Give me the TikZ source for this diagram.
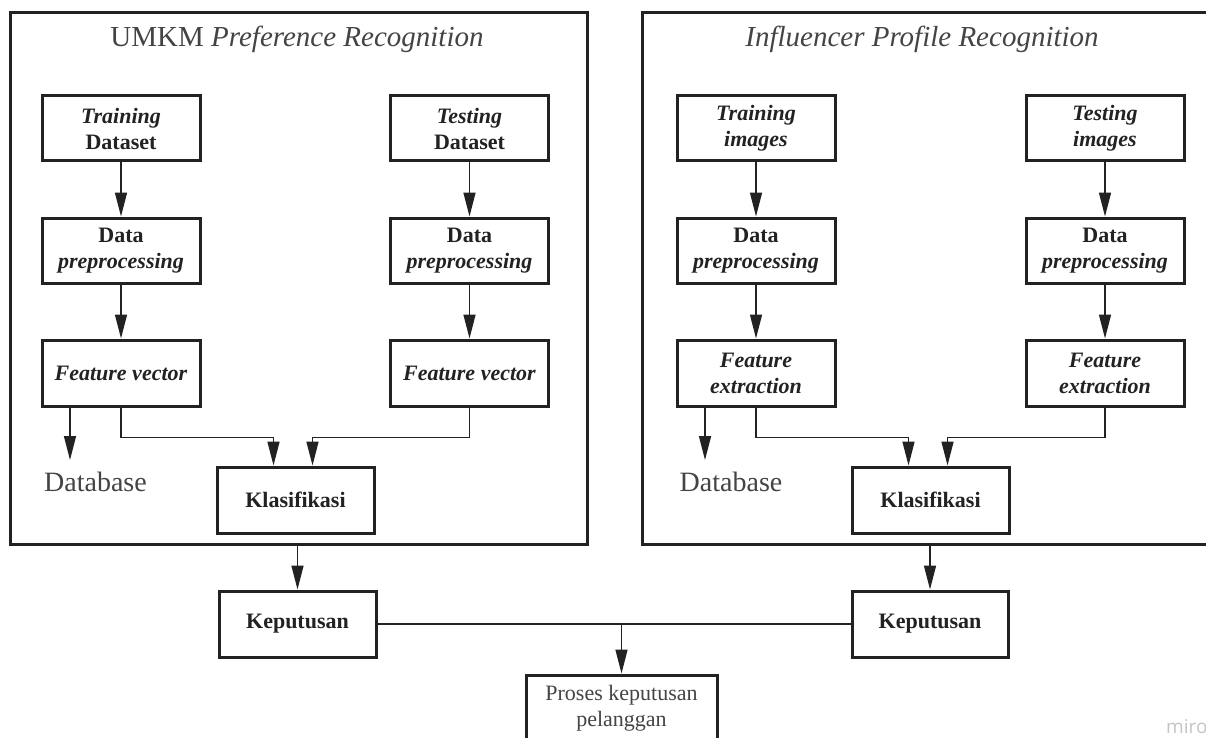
\documentclass[tikz,border=0pt]{standalone}
\usepackage{fontspec}
\setmainfont{Liberation Serif}
\newfontfamily\mirofont{Open Sans}
\usetikzlibrary{arrows.meta}
\definecolor{ink}{HTML}{222222}
\definecolor{soft}{HTML}{444444}
\definecolor{wm}{HTML}{C4C4C4}
\begin{document}
\begin{tikzpicture}[x=1pt,y=-1pt,
 box/.style={draw=ink, line width=3pt, minimum width=158pt, minimum height=65pt, inner sep=0pt, align=center, text=ink, font=\fontsize{22}{26}\selectfont\bfseries},
 outer/.style={draw=ink, line width=3pt, inner sep=0pt},
 arr/.style={draw=ink, line width=1.5pt, -{Triangle[length=24pt,width=12pt]}},
 ln/.style={draw=ink, line width=1.5pt},
 ttl/.style={text=soft, font=\fontsize{29}{32}\selectfont, inner sep=0pt},
 dbt/.style={text=soft, font=\fontsize{28}{30}\selectfont, inner sep=0pt}
]
\clip (0,0) rectangle (1206,738);
\fill[white] (0,0) rectangle (1206,738);

% outer boxes
\node[outer, minimum width=577pt, minimum height=531pt] (OL) at (298.5,278.5) {};
\node[outer, minimum width=588pt, minimum height=531pt] (OR) at (936,278.5) {};

% titles
\node[ttl] (T1) at (297,39) {UMKM \textit{Preference Recognition}};
\node[ttl] (T2) at (922,39) {\textit{Influencer Profile Recognition}};

% left column
\node[box] (TD) at (121,128.5) {\textit{Training}\\Dataset};
\node[box] (TS) at (469.5,128.5) {\textit{Testing}\\Dataset};
\node[box] (DP1) at (121,250.5) {Data\\\textit{preprocessing}};
\node[box] (DP2) at (469.5,250.5) {Data\\\textit{preprocessing}};
\node[box, minimum height=66pt] (FV1) at (121,373) {\textit{Feature vector}};
\node[box, minimum height=66pt] (FV2) at (469.5,373) {\textit{Feature vector}};
\node[box, minimum width=157pt, minimum height=66pt] (K1) at (295.5,500) {Klasifikasi};
\node[dbt] (DB1) at (95.5,482) {Database};
\coordinate (db1) at (70,460);

% right column
\node[box] (TI) at (756,128.5) {\textit{Training}\\\textit{images}};
\node[box] (TT) at (1105,128.5) {\textit{Testing}\\\textit{images}};
\node[box] (DP3) at (756,250.5) {Data\\\textit{preprocessing}};
\node[box] (DP4) at (1105,250.5) {Data\\\textit{preprocessing}};
\node[box, minimum height=66pt] (FE1) at (756,373) {\textit{Feature}\\\textit{extraction}};
\node[box, minimum height=66pt] (FE2) at (1105,373) {\textit{Feature}\\\textit{extraction}};
\node[box, minimum width=157pt, minimum height=66pt] (K2) at (930.5,500) {Klasifikasi};
\node[dbt] (DB2) at (731,482) {Database};
\coordinate (db2) at (705,460);

% bottom
\node[box, minimum width=157pt, minimum height=66pt] (KP1) at (297.5,624) {Keputusan};
\node[box, minimum width=156pt, minimum height=66pt] (KP2) at (930,624) {Keputusan};
\node[box, minimum width=191pt, minimum height=66pt, font=\fontsize{22}{26}\selectfont, text=soft] (PR) at (621.5,708) {Proses keputusan\\pelanggan};

\node[text=wm, font=\mirofont\fontsize{19}{20}\selectfont, anchor=west, inner sep=0pt] (MW) at (1166,727) {miro};

% connectors left
\draw[arr] (TD) -- (DP1);
\draw[arr] (DP1) -- (FV1);
\draw[arr] (TS) -- (DP2);
\draw[arr] (DP2) -- (FV2);
\draw[arr] (FV1.south -| db1) -- (db1);
\draw[arr] (FV1.south) -- ++(0,30) -| ([xshift=-22pt]K1.north);
\draw[arr] (FV2.south) -- ++(0,30) -| ([xshift=17pt]K1.north);

% connectors right
\draw[arr] (TI) -- (DP3);
\draw[arr] (DP3) -- (FE1);
\draw[arr] (TT) -- (DP4);
\draw[arr] (DP4) -- (FE2);
\draw[arr] (FE1.south -| db2) -- (db2);
\draw[arr] (FE1.south) -- ++(0,30) -| ([xshift=-22pt]K2.north);
\draw[arr] (FE2.south) -- ++(0,30) -| ([xshift=17pt]K2.north);

% bottom connectors
\draw[arr] (OL.south -| KP1.north) -- (KP1.north);
\draw[arr] (OR.south -| KP2.north) -- (KP2.north);
\draw[ln] (KP1.east) -- (KP2.west);
\draw[arr] (KP1.east -| PR.north) -- (PR.north);
\end{tikzpicture}
\end{document}
